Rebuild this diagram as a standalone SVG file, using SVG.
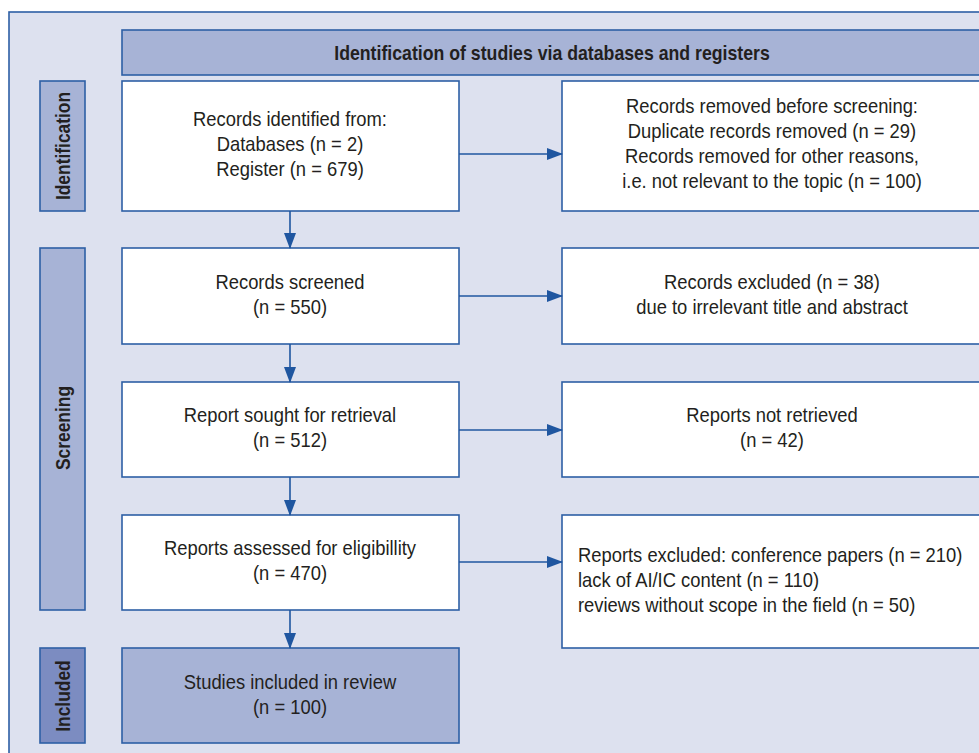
<svg xmlns="http://www.w3.org/2000/svg" width="979" height="753" viewBox="0 0 979 753">
<style>
.bx{fill:#ffffff;stroke:#2d5fa5;stroke-width:1.6}
.hd{fill:#a7b3d6;stroke:#2d5fa5;stroke-width:1.6}
.inc{fill:#7c8cc1;stroke:#2d5fa5;stroke-width:1.6}
.t{font-family:"Liberation Sans",Arial,sans-serif;font-size:21px;fill:#231f20}
.b{font-family:"Liberation Sans",Arial,sans-serif;font-size:20px;font-weight:bold;fill:#231f20}
.c{stroke:#1f56a0;stroke-width:1.6;fill:none}
</style>
<defs>
<marker id="ah" markerWidth="16" markerHeight="12" refX="15" refY="6" orient="auto" markerUnits="userSpaceOnUse">
<path d="M0,0 L16,6 L0,12 Z" fill="#1f56a0"/>
</marker>
</defs>
<rect x="9" y="12" width="990" height="760" fill="#dde1ef" stroke="#2d5fa5" stroke-width="1.6"/>
<g id="header">
<rect class="hd" x="122" y="30" width="880" height="45"/>
<text class="b" transform="translate(552,60) scale(0.885,1)" text-anchor="middle">Identification of studies via databases and registers</text>
</g>
<g id="label-identification">
<rect class="hd" x="40" y="81" width="45" height="130"/>
<text class="b" transform="translate(70,146) rotate(-90) scale(0.87,1)" text-anchor="middle">Identification</text>
</g>
<g id="label-screening">
<rect class="hd" x="40" y="248" width="45" height="362"/>
<text class="b" transform="translate(70,428) rotate(-90) scale(0.87,1)" text-anchor="middle">Screening</text>
</g>
<g id="label-included">
<rect class="inc" x="40" y="648" width="45" height="95"/>
<text class="b" transform="translate(70,696) rotate(-90) scale(0.87,1)" text-anchor="middle">Included</text>
</g>
<g id="identified">
<rect class="bx" x="122" y="81" width="337" height="130"/>
<text class="t" transform="translate(290,0) scale(0.875,1)" text-anchor="middle"><tspan x="0" y="126">Records identified from:</tspan><tspan x="0" y="151">Databases (n = 2)</tspan><tspan x="0" y="176">Register (n = 679)</tspan></text>
</g>
<g id="removed">
<rect class="bx" x="562" y="81" width="440" height="130"/>
<text class="t" transform="translate(772,0) scale(0.875,1)" text-anchor="middle"><tspan x="0" y="113">Records removed before screening:</tspan><tspan x="0" y="138">Duplicate records removed (n = 29)</tspan><tspan x="0" y="163">Records removed for other reasons,</tspan><tspan x="0" y="188">i.e. not relevant to the topic (n = 100)</tspan></text>
</g>
<g id="screened">
<rect class="bx" x="122" y="248" width="337" height="96"/>
<text class="t" transform="translate(290,0) scale(0.875,1)" text-anchor="middle"><tspan x="0" y="289">Records screened</tspan><tspan x="0" y="314">(n = 550)</tspan></text>
</g>
<g id="excluded">
<rect class="bx" x="562" y="248" width="440" height="96"/>
<text class="t" transform="translate(772,0) scale(0.875,1)" text-anchor="middle"><tspan x="0" y="289">Records excluded (n = 38)</tspan><tspan x="0" y="314">due to irrelevant title and abstract</tspan></text>
</g>
<g id="sought">
<rect class="bx" x="122" y="382" width="337" height="95"/>
<text class="t" transform="translate(290,0) scale(0.875,1)" text-anchor="middle"><tspan x="0" y="422">Report sought for retrieval</tspan><tspan x="0" y="447">(n = 512)</tspan></text>
</g>
<g id="not-retrieved">
<rect class="bx" x="562" y="382" width="440" height="95"/>
<text class="t" transform="translate(772,0) scale(0.875,1)" text-anchor="middle"><tspan x="0" y="422">Reports not retrieved</tspan><tspan x="0" y="447">(n = 42)</tspan></text>
</g>
<g id="assessed">
<rect class="bx" x="122" y="515" width="337" height="95"/>
<text class="t" transform="translate(290,0) scale(0.875,1)" text-anchor="middle"><tspan x="0" y="555">Reports assessed for eligibillity</tspan><tspan x="0" y="580">(n = 470)</tspan></text>
</g>
<g id="reports-excluded">
<rect class="bx" x="562" y="515" width="440" height="133"/>
<text class="t" transform="translate(578,0) scale(0.875,1)"><tspan x="0" y="562">Reports excluded: conference papers (n = 210)</tspan><tspan x="0" y="587">lack of AI/IC content (n = 110)</tspan><tspan x="0" y="612">reviews without scope in the field (n = 50)</tspan></text>
</g>
<g id="included">
<rect class="hd" x="122" y="648" width="337" height="95"/>
<text class="t" transform="translate(290,0) scale(0.875,1)" text-anchor="middle"><tspan x="0" y="689">Studies included in review</tspan><tspan x="0" y="714">(n = 100)</tspan></text>
</g>
<g id="connectors">
<line class="c" x1="290" y1="211" x2="290" y2="248" marker-end="url(#ah)"/>
<line class="c" x1="290" y1="344" x2="290" y2="382" marker-end="url(#ah)"/>
<line class="c" x1="290" y1="477" x2="290" y2="515" marker-end="url(#ah)"/>
<line class="c" x1="290" y1="610" x2="290" y2="648" marker-end="url(#ah)"/>
<line class="c" x1="459" y1="154" x2="562" y2="154" marker-end="url(#ah)"/>
<line class="c" x1="459" y1="296" x2="562" y2="296" marker-end="url(#ah)"/>
<line class="c" x1="459" y1="430" x2="562" y2="430" marker-end="url(#ah)"/>
<line class="c" x1="459" y1="562" x2="562" y2="562" marker-end="url(#ah)"/>
</g>
</svg>
